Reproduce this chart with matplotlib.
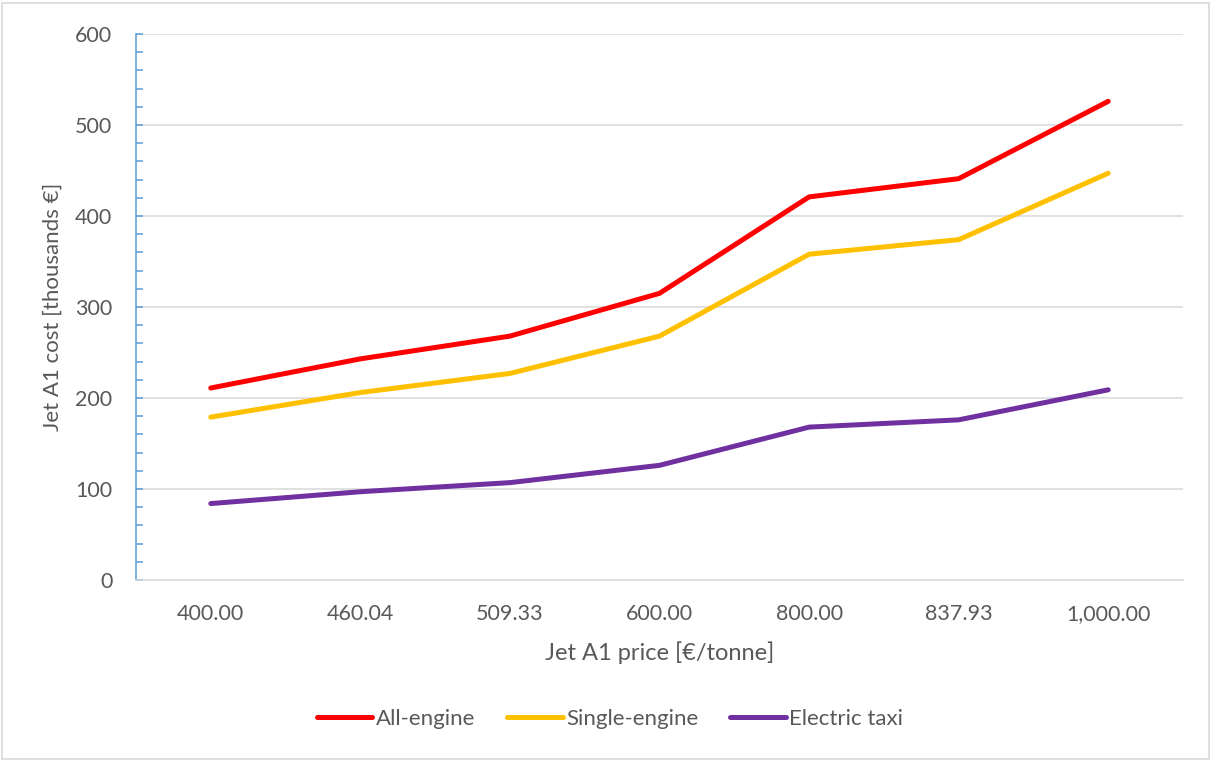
import matplotlib
matplotlib.use("Agg")
import matplotlib.pyplot as plt
from matplotlib.ticker import MultipleLocator
from matplotlib.patches import Rectangle

categories = ["400.00", "460.04", "509.33", "600.00", "800.00", "837.93", "1,000.00"]
all_engine = [211, 243, 268, 315, 421, 441, 526]
single_engine = [179, 206, 227, 268, 358, 374, 447]
electric_taxi = [84, 97, 107, 126, 168, 176, 209]

series_names = ["All-engine", "Single-engine", "Electric taxi"]
colors = ["#FF0000", "#FFC000", "#7030A0"]

plt.rcParams['font.family'] = ['Lato', 'DejaVu Sans']
text_color = "#595959"

fig = plt.figure(figsize=(12.12, 7.61), dpi=100)
ax = fig.add_axes([136/1212, 1-580/761, (1183-136)/1212, (580-34)/761])

x = list(range(len(categories)))
for vals, name, c in zip([all_engine, single_engine, electric_taxi], series_names, colors):
    ax.plot(x, vals, color=c, lw=3.6, label=name, solid_capstyle='round', solid_joinstyle='round')

ax.set_xlim(-0.5, len(categories) - 0.5)
ax.set_ylim(0, 600)
ax.yaxis.set_major_locator(MultipleLocator(100))
ax.yaxis.set_minor_locator(MultipleLocator(20))
ax.set_xticks(x)
ax.set_xticklabels(categories)

ax.grid(axis='y', which='major', color='#D9D9D9', lw=1.1)
ax.set_axisbelow(True)

for s in ['top', 'right']:
    ax.spines[s].set_visible(False)
ax.spines['bottom'].set_color('#D9D9D9')
ax.spines['bottom'].set_linewidth(1.1)
ax.spines['left'].set_color('#5B9BD5')
ax.spines['left'].set_linewidth(1.1)

ax.tick_params(axis='y', which='major', direction='in', length=5, width=1.1, color='#5B9BD5',
               labelsize=15.5, labelcolor=text_color, pad=17)
ax.tick_params(axis='y', which='minor', direction='in', length=5, width=1.1, color='#5B9BD5')
ax.tick_params(axis='x', which='both', length=0, labelsize=15.5, labelcolor=text_color, pad=17)

ax.set_xlabel("Jet A1 price [€/tonne]", fontsize=17, color=text_color, labelpad=13)
ax.set_ylabel("Jet A1 cost [thousands €]", fontsize=16, color=text_color, labelpad=9)

leg = fig.legend(loc='center', bbox_to_anchor=(610/1212, 1-719/761), ncol=3, frameon=False,
                 fontsize=16, handlelength=2.5, handletextpad=0.15, columnspacing=1.45)
for t in leg.get_texts():
    t.set_color(text_color)
for l in leg.get_lines():
    l.set_linewidth(3.6)

fig.patches.append(Rectangle((2/1212, 2/761), 1207/1212, 756/761, transform=fig.transFigure,
                             fill=False, edgecolor='#D9D9D9', lw=1.2))

fig.savefig("out.png", dpi=100)
